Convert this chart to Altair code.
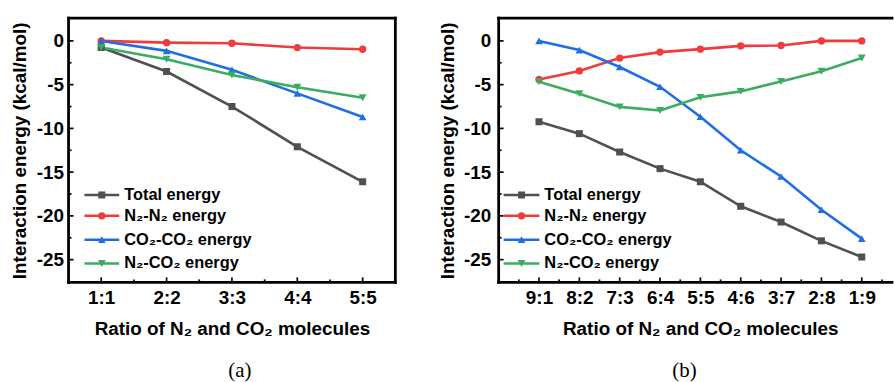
import json
import altair as alt
import pandas as pd

# ---- series definitions -------------------------------------------------
series = ["Total energy", "N2-N2 energy", "CO2-CO2 energy", "N2-CO2 energy"]
series_labels = ["Total energy", "N₂-N₂ energy", "CO₂-CO₂ energy", "N₂-CO₂ energy"]
colors = ["#505050", "#ef3b3b", "#1f6fe3", "#3aad62"]
shapes = ["square", "circle", "triangle-up", "triangle-down"]
sizes = [50, 64, 90, 90]

# ---- panel (a): equal numbers of N2 and CO2 -----------------------------
ratios_a = ["1:1", "2:2", "3:3", "4:4", "5:5"]
total_a = [-0.75, -3.5, -7.5, -12.1, -16.1]
n2n2_a = [0.0, -0.2, -0.27, -0.76, -0.95]
co2co2_a = [0.0, -1.14, -3.3, -6.0, -8.7]
n2co2_a = [-0.75, -2.1, -3.9, -5.3, -6.5]

# ---- panel (b): varying N2:CO2 ratio -------------------------------------
ratios_b = ["9:1", "8:2", "7:3", "6:4", "5:5", "4:6", "3:7", "2:8", "1:9"]
total_b = [-9.24, -10.6, -12.7, -14.6, -16.1, -18.9, -20.7, -22.85, -24.7]
n2n2_b = [-4.4, -3.43, -1.96, -1.28, -0.94, -0.57, -0.53, 0.0, 0.0]
co2co2_b = [0.0, -1.05, -2.98, -5.24, -8.67, -12.5, -15.5, -19.3, -22.6]
n2co2_b = [-4.67, -6.03, -7.54, -7.96, -6.45, -5.77, -4.64, -3.47, -1.96]

y_major = [0, -5, -10, -15, -20, -25]
y_minor = [-2.5, -7.5, -12.5, -17.5, -22.5]

FONT = "Liberation Sans"
PLOT_H = 266
LEGEND_ROWS = [178, 199, 223, 247]

color_scale = alt.Scale(domain=series, range=colors)
shape_scale = alt.Scale(domain=series, range=shapes)
size_scale = alt.Scale(domain=series, range=sizes)


def long_table(ratios, columns):
    rows = []
    for name, values in zip(series, columns):
        for i, (r, v) in enumerate(zip(ratios, values)):
            rows.append({"idx": i + 1, "ratio": r, "series": name, "energy": v})
    return pd.DataFrame(rows)


def one_row(**cols):
    return alt.Chart(pd.DataFrame({k: [v] for k, v in cols.items()}))


def rule(**enc):
    return one_row(k=0).mark_rule(
        color="black", strokeWidth=2.8, strokeCap="square"
    ).encode(**enc)


def panel(ratios, columns, width, x_domain, x_minor, leg_x, ylab_pad, y_extent,
          y_title_pad, right_frame, label, label_dx, x_title_x=None):
    df = long_table(ratios, columns)
    n = len(ratios)
    xs = alt.Scale(domain=x_domain, nice=False, zero=False)
    ys = alt.Scale(domain=[-27.6, 2.6], nice=False, zero=False)

    x_axis_kw = dict(
        values=list(range(1, n + 1)),
        labelExpr=f"{json.dumps(ratios)}[datum.value - 1]",
        title="Ratio of N₂ and CO₂ molecules",
        labelPadding=6, titlePadding=12, domain=False, ticks=False, grid=False,
    )
    if x_title_x is not None:
        x_axis_kw.update(titleX=x_title_x, titleAlign="center", titleAnchor="middle")

    base = alt.Chart(df)
    lines = base.mark_line(strokeWidth=2.6).encode(
        x=alt.X("idx:Q", scale=xs, axis=alt.Axis(**x_axis_kw)),
        y=alt.Y("energy:Q", scale=ys,
                axis=alt.Axis(values=y_major, labelExpr="'' + datum.value",
                              title="Interaction energy (kcal/mol)",
                              labelPadding=ylab_pad, minExtent=y_extent,
                              maxExtent=y_extent, titlePadding=y_title_pad,
                              domain=False, ticks=False, grid=False)),
        color=alt.Color("series:N", scale=color_scale, legend=None),
    )
    points = base.mark_point(filled=True, opacity=1).encode(
        x=alt.X("idx:Q", scale=xs),
        y=alt.Y("energy:Q", scale=ys),
        color=alt.Color("series:N", scale=color_scale, legend=None),
        shape=alt.Shape("series:N", scale=shape_scale, legend=None),
        size=alt.Size("series:N", scale=size_scale, legend=None),
    )

    # inward tick marks on the left and bottom frame
    def yticks(vals, length):
        return alt.Chart(pd.DataFrame({"energy": vals})).mark_rule(
            color="black", strokeWidth=1.7).encode(
            y=alt.Y("energy:Q", scale=ys),
            x=alt.value(0), x2=alt.value(length))

    def xticks(vals, length):
        return alt.Chart(pd.DataFrame({"idx": vals})).mark_rule(
            color="black", strokeWidth=1.7).encode(
            x=alt.X("idx:Q", scale=xs),
            y=alt.value(PLOT_H), y2=alt.value(PLOT_H - length))

    frame = [
        rule(x=alt.value(0), x2=alt.value(width), y=alt.value(0)),
        rule(x=alt.value(0), x2=alt.value(width), y=alt.value(PLOT_H)),
        rule(x=alt.value(0), y=alt.value(0), y2=alt.value(PLOT_H)),
    ]
    if right_frame:
        frame.append(rule(x=alt.value(width), y=alt.value(0), y2=alt.value(PLOT_H)))

    # legend drawn inside the plot area, one row per series
    x0, x1, xt = leg_x
    legend = []
    for name, text, ypx in zip(series, series_labels, LEGEND_ROWS):
        row = one_row(series=name, label=text)
        legend.append(row.mark_rule(strokeWidth=2.6).encode(
            y=alt.value(ypx), x=alt.value(x0), x2=alt.value(x1),
            color=alt.Color("series:N", scale=color_scale, legend=None)))
        legend.append(row.mark_point(filled=True, opacity=1).encode(
            y=alt.value(ypx), x=alt.value((x0 + x1) / 2),
            color=alt.Color("series:N", scale=color_scale, legend=None),
            shape=alt.Shape("series:N", scale=shape_scale, legend=None),
            size=alt.Size("series:N", scale=size_scale, legend=None)))
        legend.append(row.mark_text(
            align="left", baseline="middle", font=FONT, fontSize=16.5,
            fontWeight="bold", color="black").encode(
            y=alt.value(ypx), x=alt.value(xt), text="label:N"))

    return alt.layer(
        lines, points,
        yticks(y_major, 5), yticks(y_minor, 3),
        xticks(list(range(1, n + 1)), 5), xticks(x_minor, 3),
        *frame, *legend,
    ).properties(
        width=width, height=PLOT_H,
        title=alt.TitleParams(label, orient="bottom", font="Liberation Serif",
                              fontSize=21, fontWeight="normal", color="black",
                              offset=22, dx=label_dx, anchor="middle", frame="group"),
    )


panel_a = panel(
    ratios_a, [total_a, n2n2_a, co2co2_a, n2co2_a],
    width=329, x_domain=[0.5, 5.5], x_minor=[1.5, 2.5, 3.5, 4.5],
    leg_x=(16, 51, 56), ylab_pad=5, y_extent=36, y_title_pad=3,
    right_frame=True, label="(a)", label_dx=8,
)
panel_b = panel(
    ratios_b, [total_b, n2n2_b, co2co2_b, n2co2_b],
    width=396, x_domain=[0, 9.75], x_minor=[0.5 + i for i in range(10)],
    leg_x=(5, 41, 46), ylab_pad=8, y_extent=34, y_title_pad=7,
    right_frame=False, label="(b)", label_dx=-11, x_title_x=203,
)

chart = alt.hconcat(panel_a, panel_b, spacing=41).configure(
    padding={"left": 10, "top": 15, "right": 0, "bottom": 0},
    background="white",
).configure_view(strokeWidth=0).configure_axis(
    labelFont=FONT, labelFontSize=19, labelFontWeight="bold", labelColor="black",
    titleFont=FONT, titleFontSize=19, titleFontWeight="bold", titleColor="black",
)

chart.save("out.html", embed_options={"renderer": "svg", "actions": False})
